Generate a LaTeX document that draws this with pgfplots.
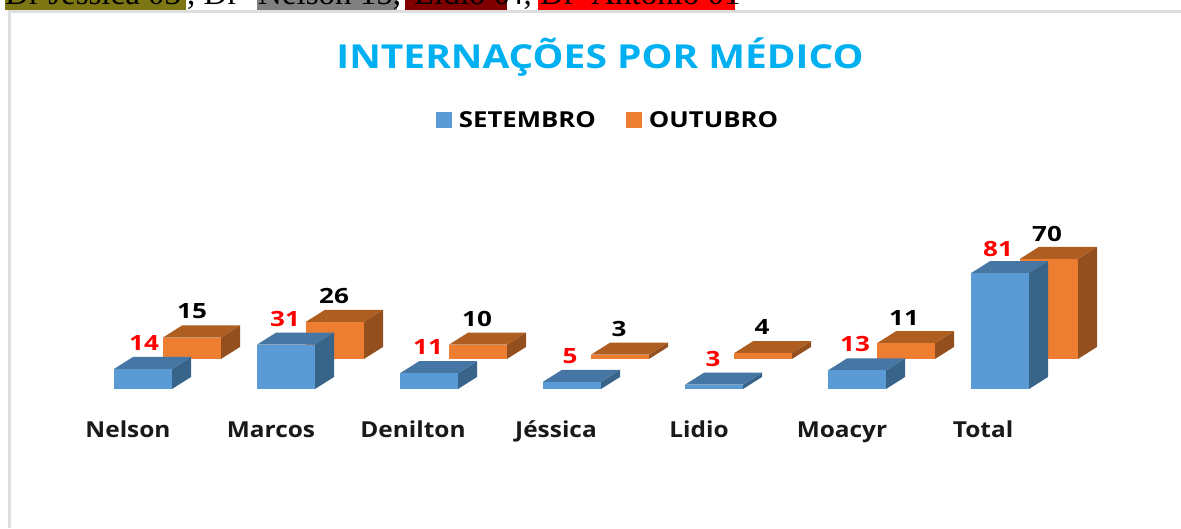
\documentclass[border=0pt]{standalone}
\usepackage{fontspec}
\usepackage{pgfplots}
\pgfplotsset{compat=1.18}
\setmainfont{Open Sans}
\newfontfamily\serifa{Liberation Serif}
\definecolor{azul}{HTML}{5B9BD5}
\definecolor{azultopo}{HTML}{4676A3}
\definecolor{azullado}{HTML}{39648A}
\definecolor{laranja}{HTML}{ED7D31}
\definecolor{laranjatopo}{HTML}{AF5E22}
\definecolor{laranjalado}{HTML}{93501E}
\definecolor{titulo}{HTML}{00B0F0}
\definecolor{borda}{HTML}{DEDEDE}

% x0, base, value, front, top, side
\newcommand{\barra}[6]{%
  \pgfmathsetmacro\xa{#1+58}%
  \pgfmathsetmacro\xb{#1+19}%
  \pgfmathsetmacro\xc{#1+77}%
  \pgfmathsetmacro\ya{#2+#3}%
  \pgfmathsetmacro\yb{#2+#3+8.4}%
  \pgfmathsetmacro\yc{#2+8.4}%
  \addplot[fill=#6,draw=none,forget plot] coordinates {(\xa,#2)(\xc,\yc)(\xc,\yb)(\xa,\ya)} --cycle;
  \addplot[fill=#5,draw=none,forget plot] coordinates {(#1,\ya)(\xa,\ya)(\xc,\yb)(\xb,\yb)} --cycle;
  \addplot[fill=#4,draw=none,forget plot] coordinates {(#1,#2)(\xa,#2)(\xa,\ya)(#1,\ya)} --cycle;
}
\newcommand{\laranjabar}[2]{\barra{#1}{21}{#2}{laranja}{laranjatopo}{laranjalado}}
\newcommand{\azulbar}[2]{\barra{#1}{0}{#2}{azul}{azultopo}{azullado}}
% pixel position to value units: y = (389 - py)/1.43
\newcommand{\rotulo}[4]{\pgfmathsetmacro\yn{(389-#2)/1.43}%
  \edef\tmp{\noexpand\node[\unexpanded{#4}] at (axis cs:#1,\yn) {\unexpanded{#3}};}\tmp}
\newcommand{\num}[1]{\scalebox{1.24}[1]{#1}}
\newcommand{\cat}[1]{\scalebox{1.11}[1]{#1}}
\newcommand{\leg}[1]{\scalebox{1.17}[1]{#1}}
\newcommand{\linha}[2]{\node[anchor=base west,inner sep=0pt,font=\serifa\fontsize{33}{35}\selectfont] at (#1pt,523.5pt) {#2};}

\begin{document}
\begin{tikzpicture}
\clip (0,0) rectangle (1181pt,528pt);
\useasboundingbox (0,0) rectangle (1181pt,528pt);
% page strip above the chart
\fill[white] (0,0) rectangle (1181pt,528pt);
\fill[olive!85!black] (5pt,518pt) rectangle (186pt,528pt);
\fill[gray] (257pt,518pt) rectangle (397pt,528pt);
\fill[red!50!black] (405pt,518pt) rectangle (507pt,528pt);
\fill[red] (538pt,518pt) rectangle (735pt,528pt);
\fill[borda] (8pt,515pt) rectangle (1181pt,518pt);
\fill[borda] (8pt,0pt) rectangle (11pt,518pt);
\begin{axis}[
  at={(0,0)},anchor=south west,
  scale only axis,width=1181pt,height=528pt,
  xmin=0,xmax=1181,ymin=-97.2,ymax=272,
  hide axis,clip=false,
  legend style={draw=none,fill=none,at={(axis cs:608,187.8)},anchor=center,
    legend columns=2,font=\fontsize{22}{24}\selectfont\bfseries,
    /tikz/every even column/.append style={column sep=28pt},
    /tikz/every odd column/.append style={column sep=5pt}},
  legend image code/.code={\path[#1] (0pt,-8pt) rectangle (16pt,8pt);},
]
\addlegendimage{fill=azul,draw=none}
\addlegendentry{\leg{SETEMBRO}}
\addlegendimage{fill=laranja,draw=none}
\addlegendentry{\leg{OUTUBRO}}

\laranjabar{163}{15}
\laranjabar{306}{26}
\laranjabar{449}{10}
\laranjabar{591}{3}
\laranjabar{734}{4}
\laranjabar{877}{11}
\laranjabar{1020}{70}

\azulbar{114}{14}
\azulbar{257}{31}
\azulbar{400}{11}
\azulbar{543}{5}
\azulbar{685}{3}
\azulbar{828}{13}
\azulbar{971}{81}

\tikzset{
  verm/.style={text=red,font=\fontsize{21}{24}\selectfont\bfseries,inner sep=0pt},
  preto/.style={text=black,font=\fontsize{21}{24}\selectfont\bfseries,inner sep=0pt},
  catn/.style={anchor=base,text=black!90,font=\fontsize{22}{24}\selectfont\bfseries,inner sep=0pt},
}
\rotulo{144}{343}{\num{14}}{verm}
\rotulo{285}{319}{\num{31}}{verm}
\rotulo{428}{347}{\num{11}}{verm}
\rotulo{570}{356}{\num{5}}{verm}
\rotulo{713}{359}{\num{3}}{verm}
\rotulo{855}{344}{\num{13}}{verm}
\rotulo{998}{249}{\num{81}}{verm}
\rotulo{192}{311}{\num{15}}{preto}
\rotulo{334}{296}{\num{26}}{preto}
\rotulo{477}{319}{\num{10}}{preto}
\rotulo{619}{329}{\num{3}}{preto}
\rotulo{762}{327}{\num{4}}{preto}
\rotulo{904}{318}{\num{11}}{preto}
\rotulo{1047}{234}{\num{70}}{preto}
\rotulo{128}{438}{\cat{Nelson}}{catn}
\rotulo{271}{438}{\cat{Marcos}}{catn}
\rotulo{413}{438}{\cat{Denilton}}{catn}
\rotulo{556}{438}{\cat{Jéssica}}{catn}
\rotulo{699}{438}{\cat{Lidio}}{catn}
\rotulo{842}{438}{\cat{Moacyr}}{catn}
\rotulo{983}{438}{\cat{Total}}{catn}
\rotulo{600}{57}{\scalebox{1.18}[1]{INTERNAÇÕES POR MÉDICO}}{text=titulo,font=\fontsize{33}{36}\selectfont\bfseries,inner sep=0pt}
\end{axis}
% cut-off line of text above the chart
\linha{5}{Dr Jéssica 03}
\linha{187}{, Dr}
\linha{258}{Nelson 15,}
\linha{414}{Lidio 0}
\linha{507}{4,}
\linha{540}{Dr\hspace{8pt} Antonio 01}
\end{tikzpicture}
\end{document}
